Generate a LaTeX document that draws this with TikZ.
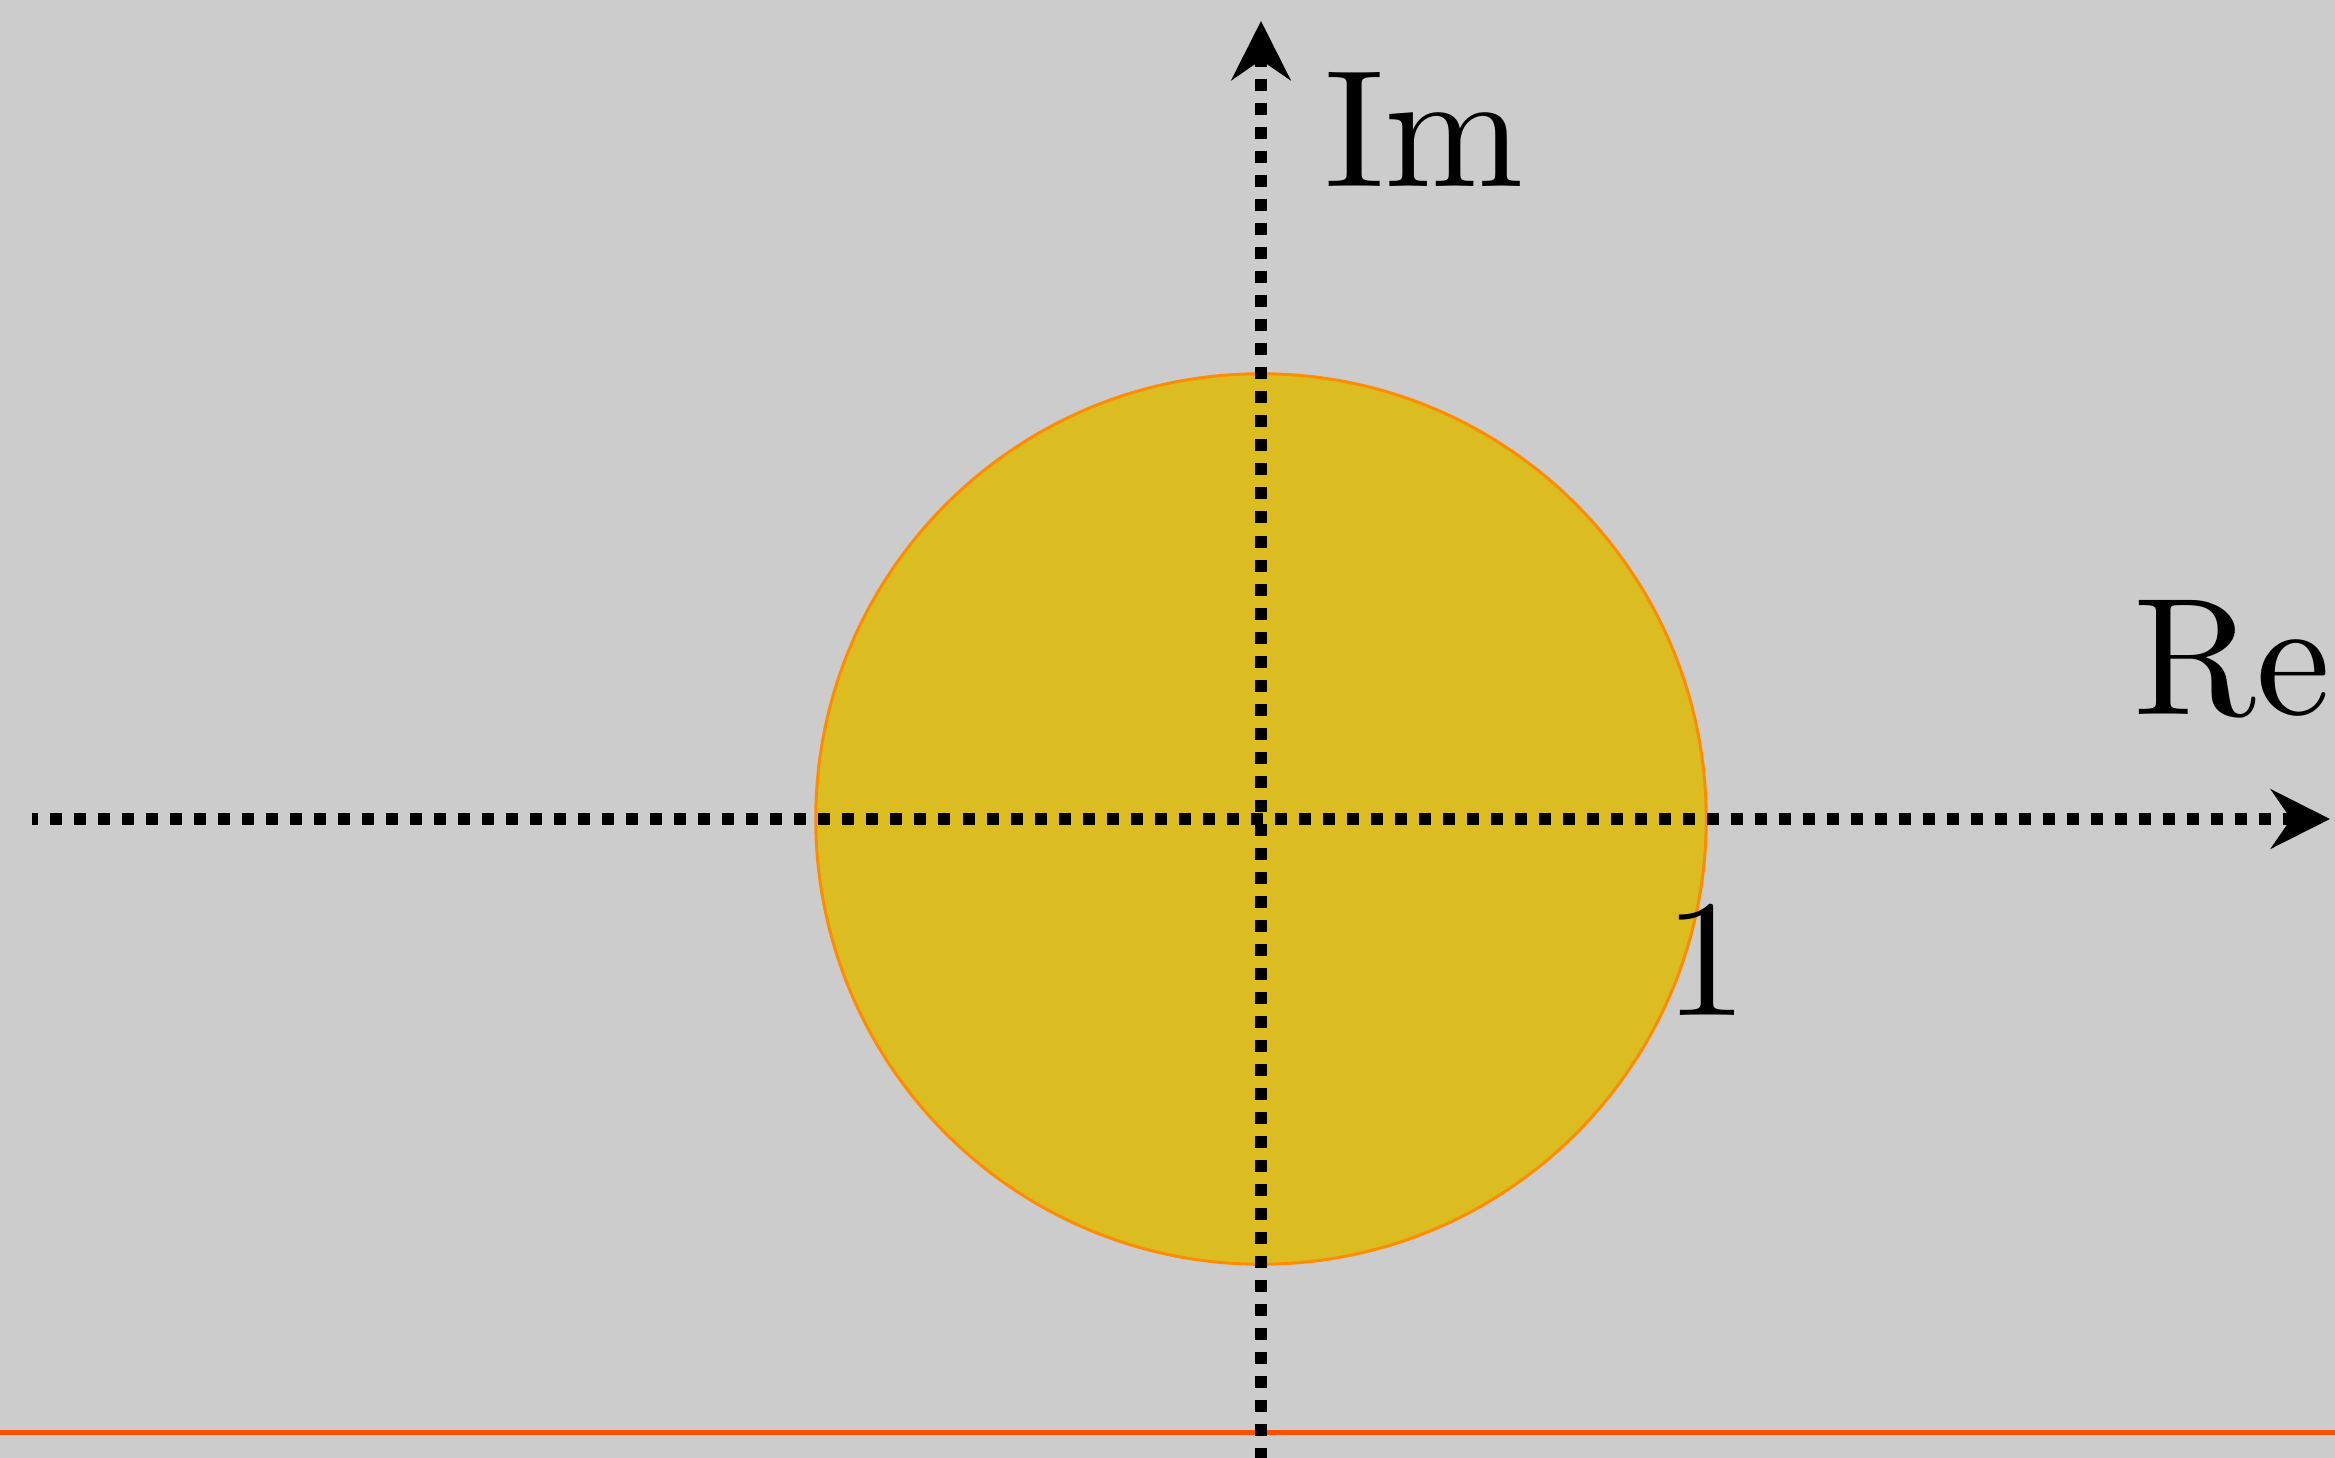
\documentclass[tikz,border=0pt]{standalone}
\usetikzlibrary{arrows.meta}
\definecolor{bggray}{HTML}{CCCCCC}
\definecolor{diskfill}{HTML}{DBBD22}
\definecolor{diskedge}{HTML}{FF8C00}
\definecolor{redline}{HTML}{FF4F00}
\begin{document}
\begin{tikzpicture}[x=0.01cm,y=-0.01cm,
  axisline/.style={line width=0.12cm, dash pattern=on 0.12cm off 0.12cm,
    -{Stealth[length=0.59cm,width=0.59cm,inset=0.2cm]}},
  lbl/.style={inner sep=0pt, font=\fontsize{10}{12}\selectfont, scale=4.75, anchor=base}]
\fill[bggray] (0,0) rectangle (2335,1458);
\useasboundingbox (0,0) rectangle (2335,1458);
\coordinate (O) at (1261,819);
\draw[redline, line width=0.05cm] (0,1432.5) coordinate (rl) -- (2335,1432.5) coordinate (rr);
\node[circle, minimum size=8.9cm, inner sep=0pt, fill=diskfill, draw=diskedge, line width=0.03cm] (disk) at (O) {};
\coordinate (xs) at (32,819);
\coordinate (xe) at (2330,819);
\coordinate (ys) at (1261,1460);
\coordinate (ye) at (1261,21);
\draw[axisline, dash phase=0.06cm] (xs) -- (xe);
\draw[axisline] (ys) -- (ye);
\node[lbl] (im) at (1424,187) {Im};
\node[lbl] (re) at (2232,715) {Re};
\node[lbl] (one) at (1706,1015) {1};
\end{tikzpicture}
\end{document}
